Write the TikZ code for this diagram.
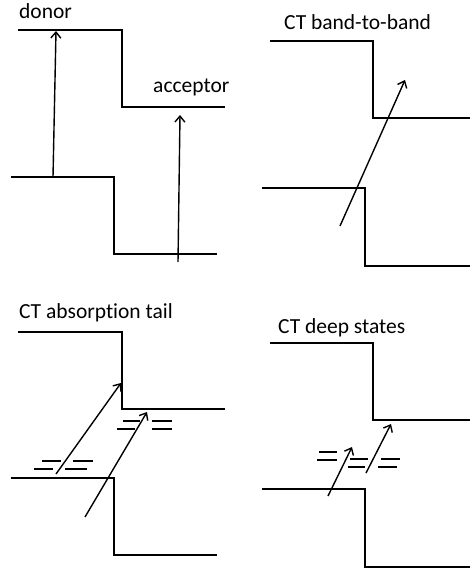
\documentclass[tikz,border=0pt]{standalone}
\usepackage{fontspec}
\setmainfont[Ligatures=NoCommon]{Carlito}
\usetikzlibrary{arrows.meta}
\begin{document}
\begin{tikzpicture}[x=1pt,y=-1pt,
  band/.style={line width=1.6pt},
  exc/.style={line width=1.4pt,-{Straight Barb[length=6pt,width=10pt,line width=1.4pt]}},
  trap/.style={line width=1.4pt},
  lbl/.style={anchor=base west,inner sep=0pt,font=\fontsize{21.5}{24}\selectfont}]
\useasboundingbox (0,0) rectangle (470,569);
% ---------- panel 1 : donor / acceptor
\node[lbl] (t1) at (19,19) {donor};
\node[lbl] (t1b) at (153,93) {acceptor};
\coordinate (a1) at (18,30);  \coordinate (a2) at (122,107); \coordinate (a3) at (225,107);
\coordinate (b1) at (11,177); \coordinate (b2) at (114,254); \coordinate (b3) at (217,254);
\draw[band] (a1) -| (a2) -- (a3);
\draw[band] (b1) -| (b2) -- (b3);
\coordinate (e1s) at (53,177); \coordinate (e1e) at (56,31);
\coordinate (e2s) at (178,262); \coordinate (e2e) at (180,115);
\draw[exc] (e1s) -- (e1e);
\draw[exc] (e2s) -- (e2e);
% ---------- panel 2 : band-to-band
\node[lbl] (t2) at (284,30) {CT band-to-band};
\coordinate (c1) at (270,41);  \coordinate (c2) at (373,118); \coordinate (c3) at (470,118);
\coordinate (d1) at (262,188); \coordinate (d2) at (365,266); \coordinate (d3) at (470,266);
\draw[band] (c1) -| (c2) -- (c3);
\draw[band] (d1) -| (d2) -- (d3);
\coordinate (f1s) at (340,226); \coordinate (f1e) at (405,80);
\draw[exc] (f1s) -- (f1e);
% ---------- panel 3 : absorption tail
\node[lbl] (t3) at (19,318) {CT absorption tail};
\coordinate (g1) at (18,332);  \coordinate (g2) at (122,409); \coordinate (g3) at (225,409);
\coordinate (h1) at (11,478);  \coordinate (h2) at (114,555); \coordinate (h3) at (217,555);
\draw[band] (g1) -| (g2) -- (g3);
\draw[band] (h1) -| (h2) -- (h3);
\coordinate (k1s) at (56,474); \coordinate (k1e) at (121,383);
\coordinate (k2s) at (85,517); \coordinate (k2e) at (147,412);
\draw[exc] (k1s) -- (k1e);
\draw[exc] (k2s) -- (k2e);
% traps
\coordinate (p1) at (42,461); \coordinate (p2) at (61,461);
\coordinate (p3) at (73,461); \coordinate (p4) at (93,461);
\coordinate (p5) at (34,469); \coordinate (p6) at (53,469);
\coordinate (p7) at (65,469); \coordinate (p8) at (87,469);
\draw[trap] (p1) -- (p2) (p3) -- (p4) (p5) -- (p6) (p7) -- (p8);
\coordinate (q1) at (123,421); \coordinate (q2) at (140,421);
\coordinate (q3) at (152,421); \coordinate (q4) at (172,421);
\coordinate (q5) at (117,429); \coordinate (q6) at (135,429);
\coordinate (q7) at (152,429); \coordinate (q8) at (172,429);
\draw[trap] (q1) -- (q2) (q3) -- (q4) (q5) -- (q6) (q7) -- (q8);
% ---------- panel 4 : deep states
\node[lbl] (t4) at (278,333) {CT deep states};
\coordinate (m1) at (270,343); \coordinate (m2) at (373,420); \coordinate (m3) at (470,420);
\coordinate (n1) at (262,489); \coordinate (n2) at (365,567); \coordinate (n3) at (470,567);
\draw[band] (m1) -| (m2) -- (m3);
\draw[band] (n1) -| (n2) -- (n3);
\coordinate (r1s) at (328,496); \coordinate (r1e) at (352,447);
\coordinate (r2s) at (366,473); \coordinate (r2e) at (391,424);
\draw[exc] (r1s) -- (r1e);
\draw[exc] (r2s) -- (r2e);
% traps
\coordinate (s1) at (319,452); \coordinate (s2) at (337,452);
\coordinate (s3) at (317,460); \coordinate (s4) at (337,460);
\coordinate (s5) at (350,459); \coordinate (s6) at (368,459);
\coordinate (s7) at (348,467); \coordinate (s8) at (365,467);
\coordinate (s9) at (381,459); \coordinate (s10) at (400,459);
\coordinate (s11) at (378,467); \coordinate (s12) at (397,467);
\draw[trap] (s1) -- (s2) (s3) -- (s4) (s5) -- (s6) (s7) -- (s8) (s9) -- (s10) (s11) -- (s12);
\end{tikzpicture}
\end{document}
